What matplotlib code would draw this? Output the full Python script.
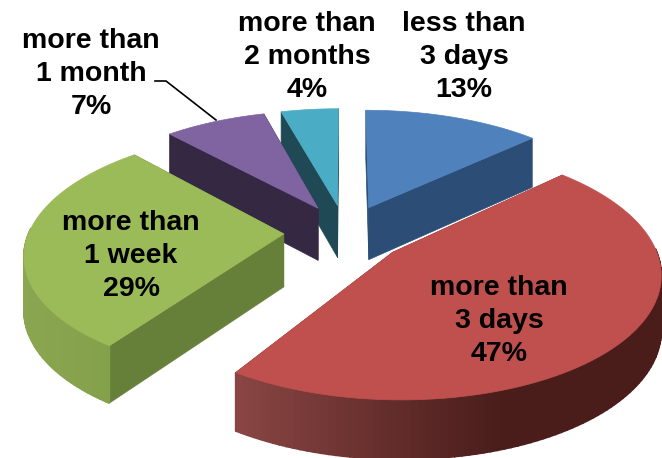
import numpy as np
import matplotlib
matplotlib.use('Agg')
import matplotlib.pyplot as plt
from matplotlib.patches import Polygon

plt.rcParams['font.family'] = ['Liberation Sans', 'DejaVu Sans']

# values
names = ['less than\n3 days', 'more than\n3 days', 'more than\n1 week', 'more than\n1 month', 'more than\n2 months']
shares = [13, 47, 29, 7, 4]

top_colors = ['#4f81bd', '#c0504d', '#9bbb59', '#8064a2', '#4bacc6']
wall_colors = ['#2c4d75', '#772c2a', '#66803a', '#342843', '#1f4955']
rim_light = ['#2c4d75', '#8a4644', '#8ba650', '#342843', '#1f4955']
rim_dark = ['#2c4d75', '#4a1d1b', '#83a04b', '#342843', '#1f4955']
label_xy = [(464, 57), (499, 321), (131, 256), (91, 74), (307, 57)]
draw_order = [4, 3, 0, 2, 1]

# pie projection, in pixels
cx, cy = 345, 233
A_left, A_right, B, k = 255, 258, 119, 0.15
explode = 0.24
depth = 53
# small view correction of the angles, degrees
warp_at = [0, 46.8, 216, 320.4, 345.6, 360]
warp_by = [0, 0, -3, -3, -1, 0]
green_start_fix = 1.7


def project(X, Y, down=False):
    w = 1 + k * Y
    sx = cx + np.where(X < 0, A_left, A_right) * X / w
    sy = cy - B * Y / w
    if down:
        sy = sy + depth / w ** 0.6
    return np.column_stack([sx, sy])


fig = plt.figure(figsize=(6.62, 4.58), dpi=100)
ax = fig.add_axes([0, 0, 1, 1])
ax.set_xlim(0, 662)
ax.set_ylim(458, 0)
ax.axis('off')

edges = np.cumsum([0] + shares) * 2 * np.pi / sum(shares)

for i in draw_order:
    t0, t1 = edges[i], edges[i + 1]
    mid = (t0 + t1) / 2
    ex, ey = explode * np.sin(mid), explode * np.cos(mid)
    t = np.linspace(t0, t1, 121)
    t = t + np.radians(np.interp(np.degrees(t), warp_at, warp_by))
    if i == 2:
        t = t + np.radians(green_start_fix) * np.linspace(1, 0, 121)
    X = ex + np.sin(t)
    Y = ey + np.cos(t)

    # the two cut faces
    for j in [0, -1]:
        px, py = np.array([ex, X[j]]), np.array([ey, Y[j]])
        up, lo = project(px, py), project(px, py, True)
        ax.add_patch(Polygon(np.vstack([up, lo[::-1]]), fc=wall_colors[i], ec=wall_colors[i], lw=0.5))

    # outer rim, only the part that faces the viewer
    up, lo = project(X, Y), project(X, Y, True)
    c0 = np.array(matplotlib.colors.to_rgb(rim_light[i]))
    c1 = np.array(matplotlib.colors.to_rgb(rim_dark[i]))
    for s in range(len(t) - 1):
        if np.cos(t[s]) > 0.05:
            continue
        f = np.clip((up[s, 0] - 235) / 265, 0, 1) if i == 1 else np.clip((up[s, 0] - 23) / 92, 0, 1)
        col = c0 + (c1 - c0) * f
        ax.add_patch(Polygon([up[s], up[s + 1], lo[s + 1], lo[s]], fc=col, ec=col, lw=1.2))

    # top face
    top = np.vstack([project(np.array([ex]), np.array([ey])), up])
    ax.add_patch(Polygon(top, fc=top_colors[i], ec=top_colors[i], lw=0.5))

for i, name in enumerate(names):
    ax.text(label_xy[i][0], label_xy[i][1], f'{name}\n{shares[i]}%', ha='center', va='center',
            fontsize=20.5, fontweight='bold', color='black', linespacing=1.33)

# leader line for the 1 month label
ax.plot([155, 166, 216], [81, 81, 120], color='black', lw=1.2)

fig.savefig('out.png', dpi=100)
